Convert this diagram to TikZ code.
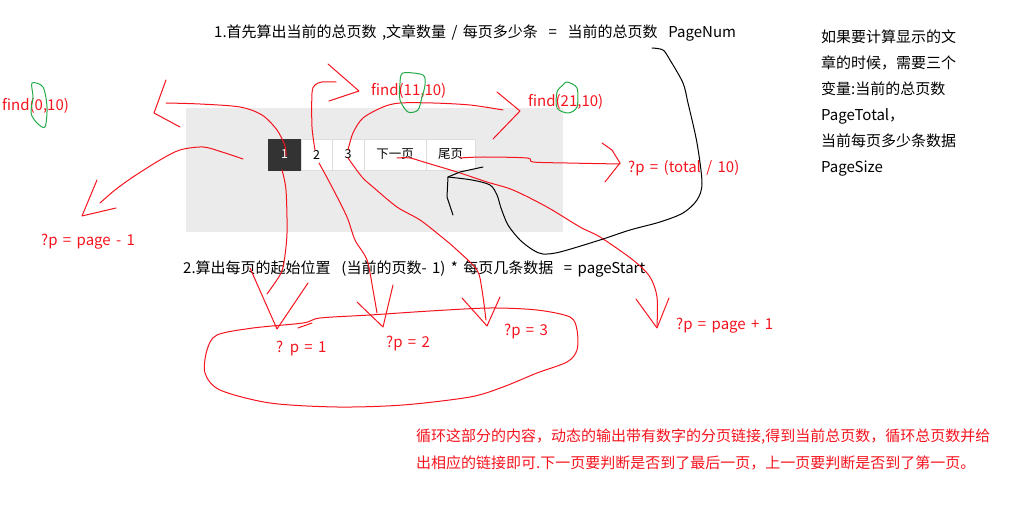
\documentclass[tikz,border=0pt]{standalone}
\usepackage{fontspec}
\usepackage{tikz}
\usetikzlibrary{arrows.meta}
\newfontfamily\yahei[WordSpace=1.6]{Noto Sans CJK SC}
\definecolor{inkred}{RGB}{245,20,30}
\definecolor{inkgreen}{RGB}{34,170,70}
\definecolor{panelgray}{RGB}{235,235,235}
\definecolor{pageborder}{RGB}{221,221,221}
\definecolor{curgray}{RGB}{51,51,51}
\tikzset{
    pen/.style={inkred,line width=1pt,line cap=round,line join=round},
    blackpen/.style={pen,draw=black},
    greenpen/.style={pen,draw=inkgreen},
    note/.style={font=\yahei\fontsize{15}{17}\selectfont,inner sep=0pt,anchor=west},
    rednote/.style={note,text=inkred},
    pagebtn/.style={draw=pageborder,fill=white,minimum height=31pt,inner sep=0pt,
        anchor=west,font=\yahei\fontsize{12.5}{14}\selectfont}
}
\begin{document}
\begin{tikzpicture}[x=1pt,y=-1pt]
    \useasboundingbox (0,0) rectangle (1018,521);
    \fill[panelgray] (186,108) rectangle (563,232);

    \node[pagebtn,fill=curgray,draw=curgray,text=white,minimum width=33pt] (pg1) at (268,154.5) {1};
    \foreach \xl/\w/\lab/\nm in {301/31/2/pg2,332/32/3/pg3,364/62/下一页/pgnext,426/49/尾页/pglast}{
        \node[pagebtn,minimum width=\w pt] (\nm) at (\xl,154.5) {\lab};
    }

    \node[note] (step1) at (214,33) {1.首先算出当前的总页数 ,文章数量 / 每页多少条 \ = \ 当前的总页数 \ PageNum};
    \node[note] (step2) at (183,269) {2.算出每页的起始位置 \ (当前的页数- 1) * 每页几条数据 \ = pageStart};
    \node[note,anchor=north west,align=left,font=\yahei\fontsize{15}{26}\selectfont] (need) at (821,30)
        {如果要计算显示的文\\章的时候，需要三个\\变量:当前的总页数\\PageTotal，\\当前每页多少条数据\\PageSize};

    \node[rednote] (find0) at (2,106) {find(0,10)};
    \node[rednote] (find11) at (371,91) {find(11,10)};
    \node[rednote] (find21) at (528,102) {find(21,10)};
    \node[rednote] (prev) at (41,242) {?p = page - 1};
    \node[rednote] (total) at (628,168) {?p = (total / 10)};
    \node[rednote] (next) at (676,326) {?p = page + 1};
    \node[rednote] (p1) at (276,349) {? p = 1};
    \node[rednote] (p2) at (386,344) {?p = 2};
    \node[rednote] (p3) at (504,332) {?p = 3};
    \node[rednote,anchor=north west,align=left,font=\yahei\fontsize{15}{27}\selectfont] (loop) at (416,429)
        {循环这部分的内容，动态的输出带有数字的分页链接,得到当前总页数，循环总页数并给\\出相应的链接即可.下一页要判断是否到了最后一页，上一页要判断是否到了第一页。};

    \draw[pen] plot[smooth] coordinates {(286,156) (285,146) (277,130) (262,115) (240,107) (200,104) (166,103)};
    \draw[pen] (166,80) -- (154,113) -- (180,127);
    \draw[pen] plot[smooth] coordinates {(243,159) (222,152) (203,147) (180,150) (160,160) (133,177) (115,190) (100,203)};
    \draw[pen] (97,180) -- (82,216) -- (116,208);
    \draw[pen] plot[smooth] coordinates {(282,170) (286,190) (287,233) (284,262) (280,275) (267,294)};
    \draw[pen] (250,268) -- (277,329) -- (308,283);
    \draw[pen] plot[smooth] coordinates {(315,150) (312,127) (312,93) (315,85) (322,82) (336,82)};
    \draw[pen] (328,64) -- (359,91) -- (329,101);
    \draw[pen] plot[smooth] coordinates {(319,163) (332,187) (347,217) (355,240) (367,260) (373,290) (377,313)};
    \draw[pen] (357,302) -- (383,327) -- (393,285);
    \draw[pen] plot[smooth] coordinates {(348,150) (353,133) (363,118) (383,107) (400,103) (433,103) (470,105) (503,110)};
    \draw[pen] (497,92) -- (520,111) -- (493,139);
    \draw[pen] plot[smooth] coordinates {(348,158) (362,177) (373,187) (397,207) (420,220) (443,238) (457,250) (477,270) (482,290) (486,320)};
    \draw[pen] (462,298) -- (487,326) -- (500,297);
    \draw[pen] plot[smooth] coordinates {(397,158) (410,158) (427,163) (457,172) (487,182) (513,190) (547,207) (580,227) (600,237) (633,260) (650,277) (657,297) (657,327)};
    \draw[pen] (636,299) -- (657,328) -- (669,298);
    \draw[pen] plot[smooth] coordinates {(460,158) (483,157) (527,158) (533,162) (567,163) (620,164)};
    \draw[pen] (602,143) -- (612,150) -- (620,163) -- (605,182);
    \draw[pen] plot[smooth cycle] coordinates {(320,318) (370,315) (430,311) (490,308) (537,310) (570,317) (577,330) (577,350) (567,362) (537,373) (503,387) (470,397) (403,405) (337,407) (270,403) (220,390) (205,373) (207,350) (217,335) (253,328) (303,323)};
    \draw[pen] (298,328) -- (312,323);

    \draw[blackpen] plot[smooth] coordinates {(652,48) (663,50) (670,60) (683,83) (688,103) (697,143) (702,183) (697,200) (683,213) (660,222) (630,230) (600,240) (560,252) (543,254) (533,250) (520,240) (508,225) (501,208) (497,195) (490,185) (472,180) (448,177)};
    \draw[blackpen] (483,167) -- (460,172) -- (448,177) -- (447,197) -- (453,215);

    \draw[greenpen] plot[smooth cycle] coordinates {(32,83) (43,87) (47,107) (45,127) (37,123) (31,113) (33,97)};
    \draw[greenpen] plot[smooth cycle] coordinates {(403,73) (423,75) (425,85) (422,97) (418,110) (408,112) (400,100) (400,83)};
    \draw[greenpen] plot[smooth cycle] coordinates {(567,82) (577,88) (577,107) (568,113) (557,108) (557,92) (563,85)};
\end{tikzpicture}
\end{document}
